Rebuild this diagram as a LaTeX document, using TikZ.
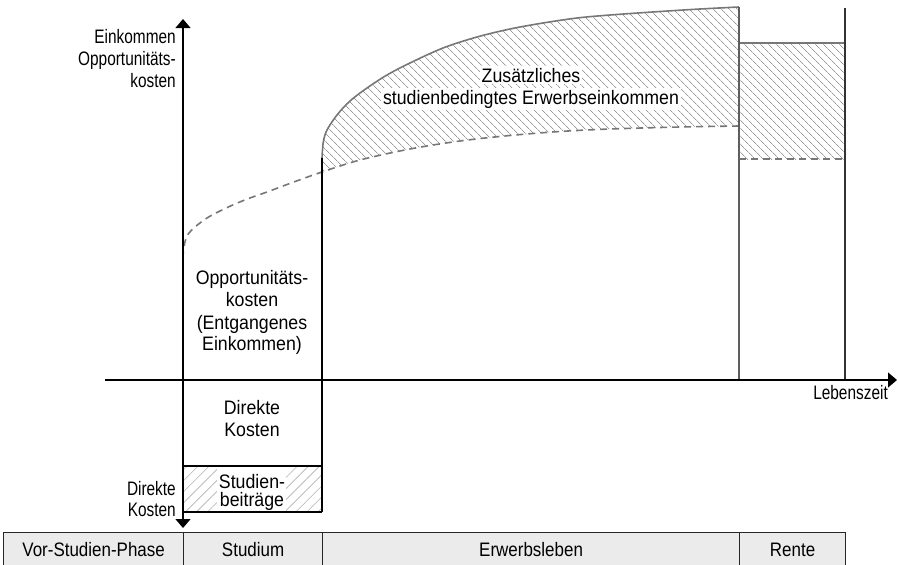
\documentclass[tikz,border=0pt]{standalone}
\usepackage{fontspec}
\setmainfont[FakeStretch=0.91]{Liberation Sans}
\newfontfamily\axisfont[FakeStretch=0.79]{Liberation Sans}
\newfontfamily\tablefont[FakeStretch=0.87]{Liberation Sans}
\usetikzlibrary{arrows.meta,patterns.meta}
\definecolor{curvegray}{HTML}{777777}
\definecolor{hatchgray}{HTML}{9A9A9A}
\definecolor{lighthatch}{HTML}{B0B0B0}
\definecolor{cellgray}{HTML}{EBEBEB}
\definecolor{darkline}{HTML}{333333}
\definecolor{midline}{HTML}{5E5E5E}
\tikzset{
  lab/.style={inner sep=0pt, font=\fontsize{19.5}{22}\selectfont},
  axlab/.style={inner sep=0pt, font=\axisfont\fontsize{19.5}{22}\selectfont},
  axisline/.style={line width=1.3pt, black},
  tip/.style={-{Triangle[width=15pt,length=9pt]}},
  curveline/.style={line width=1.6pt, curvegray},
  dashcurve/.style={line width=1.6pt, curvegray, dash pattern=on 7pt off 5pt},
  hatchA/.style={pattern={Lines[angle=-45,distance=5.4pt,line width=0.7pt]}, pattern color=hatchgray},
  hatchB/.style={pattern={Lines[angle=45,distance=7.8pt,line width=0.6pt]}, pattern color=lighthatch},
  boxline/.style={line width=1.3pt, black},
  cell/.style={draw=black!85, line width=1.2pt, fill=cellgray, anchor=north west,
     minimum height=34pt, text height=14pt, text depth=0pt, inner sep=0pt,
     font=\tablefont\fontsize{19.5}{22}\selectfont},
  whitelab/.style={lab, fill=white, inner sep=2pt}
}
\def\solidpts{(322,158) (323.3,142) (327,130) (337,115) (350,101) (367,88) (387,75) (410,63) (443,48) (477,37) (510,29) (543,23) (577,18) (610,15) (660,11.5) (700,9) (739,7)}
\def\dashApts{(183,258) (183.8,248) (187,236) (195,227) (207,218) (220,211) (235,204) (250,198) (267,192) (283,186) (302,179) (322,172) (360,160) (410,149) (460,141) (510,135.5) (560,131.5) (610,129) (680,127) (739,126)}
\def\dashBrev{(739,126) (680,127) (610,129) (560,131.5) (510,135.5) (460,141) (410,149) (360,160) (322,172)}
\begin{document}
\begin{tikzpicture}[x=1pt,y=-1pt]
\useasboundingbox (0,0) rectangle (898,565);

% coordinates
\coordinate (O) at (183,380);
\coordinate (ytop) at (183,19);
\coordinate (ybot) at (183,528);
\coordinate (xl) at (105,380);
\coordinate (xr) at (897,380);

% upper hatched area (additional income)
\fill[hatchA] plot[smooth,tension=0.55] coordinates {\solidpts}
  -- plot[smooth,tension=0.55] coordinates {\dashBrev} -- cycle;
% Rente hatched area
\fill[hatchA] (740,43) rectangle (845,159);
% Studienbeitraege hatched area
\fill[hatchB] (183,466) rectangle (322,512);
\fill[white] (217,467) rectangle (286,511);

% curves
\draw[curveline] plot[smooth,tension=0.55] coordinates {\solidpts};
\draw[dashcurve] plot[smooth,tension=0.55] coordinates {\dashApts};
\draw[curveline] (739,43) -- (845,43);
\draw[dashcurve] (739,159) -- (845,159);

% vertical lines
\draw[line width=1.5pt, midline] (739,7) -- (739,380);
\draw[line width=1.5pt, darkline] (845,8) -- (845,380);
\draw[boxline] (322,158) -- (322,512);
\draw[boxline] (183,466) -- (322,466);
\draw[boxline] (183,512) -- (322,512);

% axes
\draw[axisline, tip] (xl) -- (xr);
\draw[axisline, tip] (O) -- (ytop);
\draw[axisline, tip] (O) -- (ybot);

% axis labels
\node[axlab, anchor=base east] (yl1) at (176,43) {Einkommen};
\node[axlab, anchor=base east] (yl2) at (176,65) {Opportunitäts-};
\node[axlab, anchor=base east] (yl3) at (176,87) {kosten};
\node[axlab, anchor=base east] (dl1) at (176,495) {Direkte};
\node[axlab, anchor=base east] (dl2) at (176,516) {Kosten};
\node[axlab, anchor=base east] (xlab) at (888,399) {Lebenszeit};

% region labels
\node[whitelab, anchor=base] (z1) at (531,82) {Zusätzliches};
\node[whitelab, anchor=base] (z2) at (531,104) {studienbedingtes Erwerbseinkommen};
\node[lab, anchor=base] (o1) at (252,284) {Opportunitäts-};
\node[lab, anchor=base] (o2) at (252,306) {kosten};
\node[lab, anchor=base] (o3) at (252,329) {(Entgangenes};
\node[lab, anchor=base] (o4) at (252,350) {Einkommen)};
\node[lab, anchor=base] (d1) at (252,414) {Direkte};
\node[lab, anchor=base] (d2) at (252,436) {Kosten};
\node[lab, anchor=base] (s1) at (252,488) {Studien-};
\node[lab, anchor=base] (s2) at (252,506) {beiträge};

% phase table
\node[cell, minimum width=180pt] (t1) at (3,532) {Vor-Studien-Phase};
\node[cell, minimum width=139pt] (t2) at (183,532) {Studium};
\node[cell, minimum width=417pt] (t3) at (322,532) {Erwerbsleben};
\node[cell, minimum width=106pt] (t4) at (739,532) {Rente};
\end{tikzpicture}
\end{document}
